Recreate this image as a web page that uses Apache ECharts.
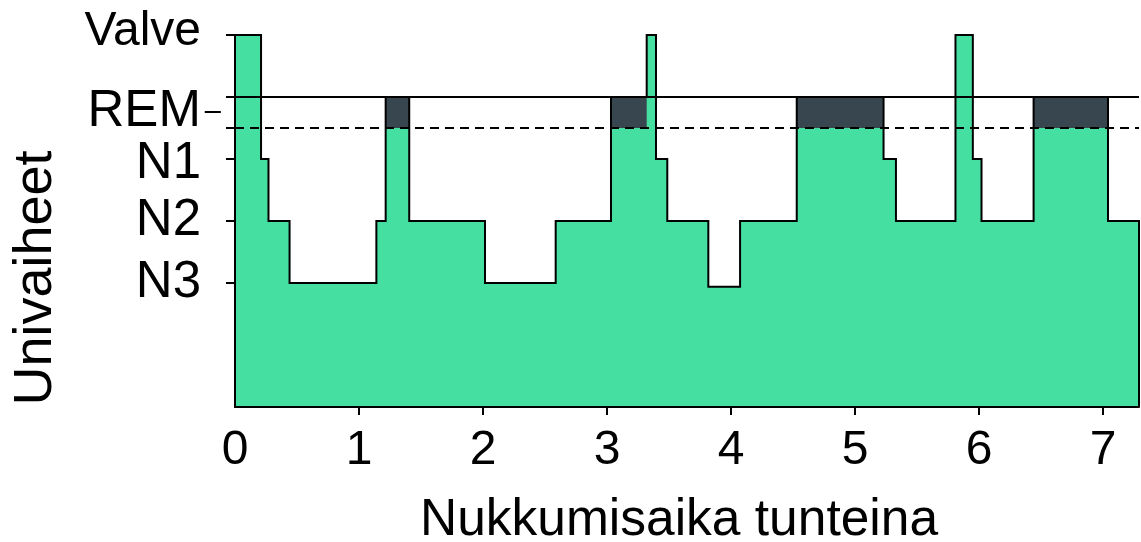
<!DOCTYPE html>
<html>
<head>
<meta charset="utf-8">
<script src="https://cdn.jsdelivr.net/npm/echarts@6/dist/echarts.min.js"></script>
<style>
html,body{margin:0;padding:0;background:#fff;}
#c{width:1141px;height:542px;}
</style>
</head>
<body>
<div id="c"></div>
<script>
// ---- data ----
var segStart = [0, 0.21, 0.27, 0.44, 1.14, 1.215, 1.405, 2.016, 2.586, 3.032, 3.32, 3.395, 3.486, 3.817, 4.073, 4.53, 5.23, 5.33, 5.81, 5.95, 6.02, 6.44, 7.04];
var segStage = [6, 4, 3, 2, 3, 5, 3, 2, 3, 5, 6, 4, 3, 1.94, 3, 5, 4, 3, 6, 4, 3, 5, 3];
var endTime = 7.29;
var stageValues = [2, 3, 4, 5, 6];
var stageNames = ['N3', 'N2', 'N1', 'REM', 'Valve'];
var xTickLabels = [0, 1, 2, 3, 4, 5, 6, 7];
var remValue = 5;
var remLower = 4.5;

// ---- build step points ----
function seg(i){ return i < segStart.length - 1 ? segStart[i + 1] : endTime; }
var full = [], clipped = [], outline = [];
for (var i = 0; i < segStart.length; i++) {
  var v = segStage[i];
  full.push([segStart[i], v], [seg(i), v]);
  var cv = v === remValue ? remLower : v;
  clipped.push([segStart[i], cv], [seg(i), cv]);
  outline.push([segStart[i], v], [seg(i), v]);
}
outline.push([endTime, 0]);

var FONT = "'Liberation Sans', Arial, sans-serif";
var GREEN = '#45DFA2';
var DARK = '#37464F';

var chart = echarts.init(document.getElementById('c'), null, {renderer: 'canvas'});
chart.setOption({
  animation: false,
  backgroundColor: '#fff',
  grid: {left: 235, right: 2, top: 35, bottom: 135, containLabel: false, outerBoundsMode: 'none'},
  xAxis: {
    type: 'value', min: 0, max: endTime, interval: 1, z: 10,
    name: 'Nukkumisaika tunteina', nameLocation: 'middle', nameGap: 88,
    nameTextStyle: {fontFamily: FONT, fontSize: 51.5, color: '#000', padding: [0, 16, 0, 0]},
    axisLine: {show: true, onZero: false, lineStyle: {color: '#000', width: 2}},
    axisTick: {show: true, length: 8, lineStyle: {color: '#000', width: 2}, customValues: [1,2,3,4,5,6,7]},
    axisLabel: {show: true, customValues: xTickLabels, margin: 20, fontFamily: FONT, fontSize: 48, color: '#000'},
    splitLine: {show: false}
  },
  yAxis: {
    type: 'value', min: 0, max: 6, z: 10,
    name: 'Univaiheet', nameLocation: 'middle', nameRotate: 90, nameGap: 172,
    nameTextStyle: {fontFamily: FONT, fontSize: 54, color: '#000', padding: [0, 114, 0, 0]},
    axisLine: {show: true, lineStyle: {color: '#000', width: 2}},
    axisTick: {show: true, length: 9, lineStyle: {color: '#000', width: 2}, customValues: [2, 3, 4, 4.5, 5, 6]},
    axisLabel: {
      show: true, customValues: stageValues, margin: 14, fontFamily: FONT, color: '#000',
      formatter: function (val) {
        var idx = stageValues.indexOf(val);
        var n = stageNames[idx];
        if (n === 'REM') return '{r|REM}{d|–}';
        if (n === 'Valve') return '{v|Valve}';
        if (n === 'N1') return '{n1|N1}';
        return '{n|' + n + '}';
      },
      rich: {
        r: {fontFamily: FONT, fontSize: 51, color: '#000', padding: [30, 0, 0, 0]},
        d: {fontFamily: FONT, fontSize: 29, color: '#000', padding: [30, 0, 0, 4], verticalAlign: 'middle'},
        v: {fontFamily: FONT, fontSize: 48, color: '#000', padding: [0, 20, 7, 0]},
        n1: {fontFamily: FONT, fontSize: 51, color: '#000', padding: [10, 20, 0, 0]},
        n: {fontFamily: FONT, fontSize: 51, color: '#000', padding: [0, 20, 0, 0]}
      }
    },
    splitLine: {show: false}
  },
  series: [
    {
      type: 'line', data: full, symbol: 'none', z: 1,
      lineStyle: {width: 0, opacity: 0},
      areaStyle: {color: DARK, opacity: 1}
    },
    {
      type: 'line', data: clipped, symbol: 'none', z: 2,
      lineStyle: {width: 0, opacity: 0},
      areaStyle: {color: GREEN, opacity: 1}
    },
    {
      type: 'line', data: outline, symbol: 'none', z: 3,
      lineStyle: {color: '#000', width: 2, join: 'miter', cap: 'butt'},
      markLine: {
        silent: true, symbol: 'none', label: {show: false},
        data: [
          {yAxis: remValue, lineStyle: {color: '#000', width: 2, type: 'solid'}},
          {yAxis: remLower, lineStyle: {color: '#000', width: 2, type: [9, 6]}}
        ]
      }
    }
  ]
});
</script>
</body>
</html>
